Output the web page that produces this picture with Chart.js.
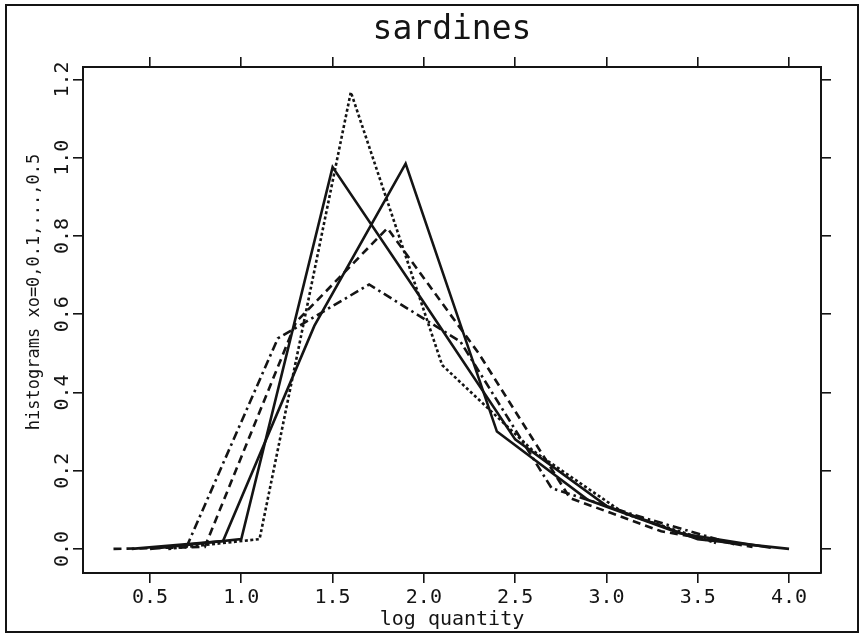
<!DOCTYPE html>
<html>
<head>
<meta charset="utf-8">
<script src="https://cdn.jsdelivr.net/npm/chart.js@4.4.1/dist/chart.umd.min.js"></script>
<style>
  body { margin: 0; background: #fff; }
  canvas { display: block; }
</style>
</head>
<body>
<canvas id="grafico" width="864" height="637"></canvas>
<script>
'use strict';

// poligonos de frecuencia, clase de ancho 0.5 (xo = 0, 0.1, ... 0.5)
const xA = [0.5, 1.0, 1.5, 2.0, 2.5, 3.0, 3.5, 4.0];
const yA = [0.0, 0.025, 0.976, 0.63, 0.28, 0.11, 0.025, 0.0];

const xB = [0.4, 0.9, 1.4, 1.9, 2.4, 2.9, 3.4, 3.9];
const yB = [0.0, 0.02, 0.57, 0.985, 0.30, 0.125, 0.04, 0.003];

const xC = [0.6, 1.1, 1.6, 2.1, 2.6, 3.1, 3.6];
const yC = [0.0, 0.025, 1.168, 0.47, 0.25, 0.09, 0.015];

const xD = [0.7, 1.2, 1.7, 2.2, 2.7, 3.2, 3.7];
const yD = [0.005, 0.538, 0.676, 0.53, 0.155, 0.08, 0.012];

const xE = [0.3, 0.8, 1.3, 1.8, 2.3, 2.8, 3.3, 3.8];
const yE = [0.0, 0.005, 0.58, 0.82, 0.50, 0.13, 0.045, 0.005];

// ticks
const ticksX = [0.5, 1.0, 1.5, 2.0, 2.5, 3.0, 3.5, 4.0];
const ticksY = [0.0, 0.2, 0.4, 0.6, 0.8, 1.0, 1.2];

const titulo = 'sardines';
const tituloX = 'log quantity';
const tituloY = 'histograms xo=0,0.1,...,0.5';

const X_MIN = 0.133, X_MAX = 4.175;
const Y_MIN = -0.0616, Y_MAX = 1.232;

const fuente = 'DejaVu Sans Mono';
const negro = '#141414';

function puntos(xs, ys) {
    return xs.map((x, i) => ({x: x, y: ys[i]}));
}

function serie(nombre, xs, ys, dash) {
    return {
        label: nombre,
        data: puntos(xs, ys),
        borderColor: negro,
        borderWidth: 2.6,
        borderDash: dash,
        pointRadius: 0,
        showLine: true,
        fill: false,
        tension: 0
    };
}

const rejilla = { drawOnChartArea: false, color: negro, lineWidth: 1.6, tickLength: 10 };
const borde = { display: true, color: negro, width: 2 };

// fondo blanco, marco exterior y titulo del eje y
const marco = {
    id: 'marco',
    beforeDraw(chart) {
        const ctx = chart.ctx;
        ctx.save();
        ctx.fillStyle = '#fff';
        ctx.fillRect(0, 0, chart.width, chart.height);
        ctx.restore();
    },
    afterDraw(chart) {
        const ctx = chart.ctx;
        ctx.save();
        ctx.strokeStyle = negro;
        ctx.lineWidth = 2;
        ctx.strokeRect(6, 5, 852, 627);
        ctx.translate(35, 292);
        ctx.rotate(-Math.PI / 2);
        ctx.font = '17px "' + fuente + '"';
        ctx.fillStyle = negro;
        ctx.textAlign = 'center';
        ctx.textBaseline = 'middle';
        ctx.fillText(tituloY, 0, 0);
        ctx.restore();
    }
};

new Chart('grafico', {
    type: 'scatter',
    data: {
        datasets: [
            serie('xo a', xA, yA, []),
            serie('xo b', xB, yB, []),
            serie('xo c', xC, yC, [3, 2.5]),
            serie('xo d', xD, yD, [9, 4, 2.5, 4]),
            serie('xo e', xE, yE, [8, 5])
        ]
    },
    options: {
        responsive: false,
        animation: false,
        layout: { padding: 0 },
        plugins: {
            legend: { display: false },
            title: { display: false },
            tooltip: { enabled: false }
        },
        scales: {
            x: {
                type: 'linear', position: 'bottom', min: X_MIN, max: X_MAX,
                afterBuildTicks: s => { s.ticks = ticksX.map(v => ({value: v})); },
                afterFit: s => { s.height = 64; },
                grid: rejilla, border: borde,
                ticks: { color: negro, font: {family: fuente, size: 20}, padding: 3, maxRotation: 0, autoSkip: false,
                    callback: v => v.toFixed(1) },
                title: { display: true, text: tituloX, color: negro, font: {family: fuente, size: 20},
                    padding: {top: 0, bottom: 5} }
            },
            x2: {
                type: 'linear', position: 'top', min: X_MIN, max: X_MAX,
                afterBuildTicks: s => { s.ticks = ticksX.map(v => ({value: v})); },
                afterFit: s => { s.height = 67; },
                grid: rejilla, border: borde,
                ticks: { display: false },
                title: { display: true, text: titulo, color: negro, font: {family: fuente, size: 33},
                    padding: {top: 11, bottom: 0} }
            },
            y: {
                type: 'linear', position: 'left', min: Y_MIN, max: Y_MAX,
                afterBuildTicks: s => { s.ticks = ticksY.map(v => ({value: v})); },
                afterFit: s => { s.width = 83; },
                grid: rejilla, border: borde,
                ticks: { color: negro, font: {family: fuente, size: 20}, minRotation: 90, maxRotation: 90,
                    crossAlign: 'center', padding: -7.5, autoSkip: false,
                    callback: v => v.toFixed(1) }
            },
            y2: {
                type: 'linear', position: 'right', min: Y_MIN, max: Y_MAX,
                afterBuildTicks: s => { s.ticks = ticksY.map(v => ({value: v})); },
                afterFit: s => { s.width = 43; },
                grid: rejilla, border: borde,
                ticks: { display: false }
            }
        }
    },
    plugins: [marco]
});
</script>
</body>
</html>
